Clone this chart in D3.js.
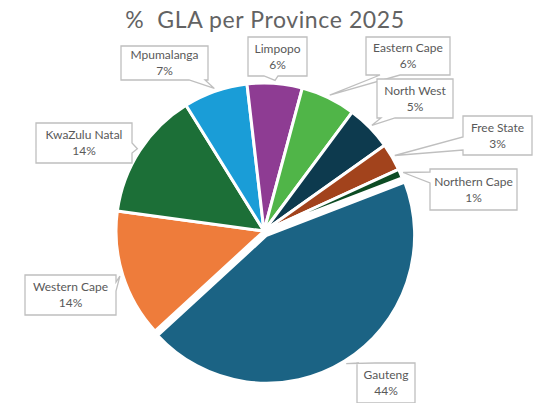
<!DOCTYPE html>
<html>
<head>
<meta charset="utf-8">
<script src="https://d3js.org/d3.v7.min.js"></script>
<style>
  html, body { margin: 0; padding: 0; background: #fff; }
  svg { display: block; }
</style>
</head>
<body>
<div id="chart"></div>
<script>
// data
const provinces = ['Gauteng', 'Western Cape', 'KwaZulu Natal', 'Mpumalanga', 'Limpopo',
  'Eastern Cape', 'North West', 'Free State', 'Northern Cape'];
const shares = [44, 14, 14, 7, 6, 6, 5, 3, 1];
const colors = ['#1b6384', '#ee7c3b', '#1c6f37', '#1a9dd7', '#8e3c93',
  '#50b548', '#0d3a4e', '#a2431c', '#0c4b23'];

// callout boxes (layout only), wedge base is [a, b] along the given side
const callouts = [
  { x: 357, y: 363, w: 58, h: 40, side: 'top', a: 2, b: 18 },
  { x: 25, y: 275, w: 91, h: 40, side: 'right', a: 7, b: 16 },
  { x: 36, y: 123, w: 96, h: 40, side: 'right', a: 20, b: 30 },
  { x: 121, y: 46, w: 87, h: 34, side: 'bottom', a: 68, b: 84 },
  { x: 248, y: 37, w: 59, h: 39, side: 'bottom', a: 16, b: 30 },
  { x: 366, y: 37, w: 84, h: 38, side: 'bottom', a: 14, b: 34 },
  { x: 377, y: 79, w: 76, h: 39, side: 'bottom', a: 4, b: 18 },
  { x: 463, y: 116, w: 69, h: 39, side: 'left', a: 21, b: 34 },
  { x: 430, y: 169, w: 87, h: 41, side: 'left', a: 3, b: 14 }
];

const width = 555, height = 403;
const cx = 264, cy = 231, radius = 148;
const explode = { 'Gauteng': 5 };

const svg = d3.select('#chart').append('svg')
  .attr('width', width)
  .attr('height', height);

svg.append('rect').attr('width', width).attr('height', height).attr('fill', '#fff');

// title
svg.append('text')
  .attr('x', 265)
  .attr('y', 28)
  .attr('text-anchor', 'middle')
  .style('font-family', 'Lato, "Open Sans", sans-serif')
  .style('font-size', '23px')
  .style('font-weight', 400)
  .style('letter-spacing', '0.6px')
  .style('fill', '#636363')
  .text('%\u00a0 GLA per Province 2025');

const rad = d => d * Math.PI / 180;
const pie = d3.pie().sort(null).value(d => d.value)
  .startAngle(rad(69)).endAngle(rad(69) + 2 * Math.PI);
const arc = d3.arc().innerRadius(0).outerRadius(radius);

const rows = provinces.map((p, i) => ({ name: p, value: shares[i], color: colors[i], box: callouts[i] }));
const arcs = pie(rows);

const offsetOf = d => {
  const k = explode[d.data.name] || 0;
  const m = (d.startAngle + d.endAngle) / 2;
  return [Math.sin(m) * k, -Math.cos(m) * k];
};

const g = svg.append('g').attr('transform', `translate(${cx},${cy})`);

g.selectAll('path.slice')
  .data(arcs)
  .enter()
  .append('path')
  .attr('class', 'slice')
  .attr('d', arc)
  .attr('transform', d => `translate(${offsetOf(d)})`)
  .style('fill', d => d.data.color)
  .style('stroke', '#fff')
  .style('stroke-width', 3)
  .style('stroke-linejoin', 'round');

// callouts: box with a wedge pointing to the slice
function calloutPath(b, tip) {
  const { x, y, w, h, side, a, b: e } = b;
  const pts = [];
  pts.push([x, y]);
  if (side === 'top') pts.push([x + a, y], tip, [x + e, y]);
  pts.push([x + w, y]);
  if (side === 'right') pts.push([x + w, y + a], tip, [x + w, y + e]);
  pts.push([x + w, y + h]);
  if (side === 'bottom') pts.push([x + e, y + h], tip, [x + a, y + h]);
  pts.push([x, y + h]);
  if (side === 'left') pts.push([x, y + e], tip, [x, y + a]);
  return 'M' + pts.map(p => p.join(',')).join('L') + 'Z';
}

const labels = svg.append('g').attr('class', 'callouts');

arcs.forEach(d => {
  const m = (d.startAngle + d.endAngle) / 2;
  const [ox, oy] = offsetOf(d);
  const tip = [cx + ox + Math.sin(m) * (radius + 3), cy + oy - Math.cos(m) * (radius + 3)];
  const b = d.data.box;
  const grp = labels.append('g');
  grp.append('path')
    .attr('d', calloutPath(b, tip))
    .style('fill', '#fff')
    .style('stroke', '#bfbfbf')
    .style('stroke-width', 1.3);
  const t = grp.append('text')
    .attr('text-anchor', 'middle')
    .style('font-family', 'Lato, "Open Sans", sans-serif')
    .style('font-size', '12px')
    .style('fill', '#595959');
  t.append('tspan').attr('x', b.x + b.w / 2).attr('y', b.y + b.h / 2 - 4).text(d.data.name);
  t.append('tspan').attr('x', b.x + b.w / 2).attr('y', b.y + b.h / 2 + 12).text(d.data.value + '%');
});
</script>
</body>
</html>
